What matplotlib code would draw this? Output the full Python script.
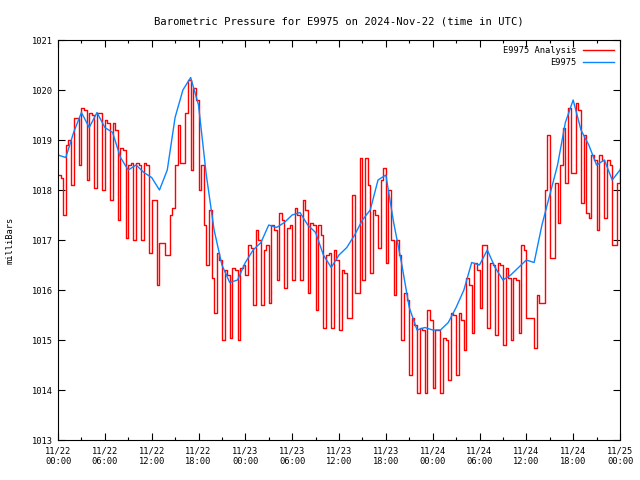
import numpy as np
import matplotlib
matplotlib.use("Agg")
import matplotlib.pyplot as plt

# x tick labels (every 6 hours)
tick_labels = ["11/22\n00:00", "11/22\n06:00", "11/22\n12:00", "11/22\n18:00",
               "11/23\n00:00", "11/23\n06:00", "11/23\n12:00", "11/23\n18:00",
               "11/24\n00:00", "11/24\n06:00", "11/24\n12:00", "11/24\n18:00",
               "11/25\n00:00"]

# E9975 Analysis, every 20 minutes from 11/22 00:00 (mb), one row per hour
analysis = [
    1018.3, 1018.25, 1017.5,   1018.9, 1019.0, 1018.1,    1019.45, 1019.45, 1018.5,
    1019.65, 1019.6, 1018.2,   1019.55, 1019.5, 1018.05,  1019.55, 1019.55, 1018.0,
    1019.4, 1019.35, 1017.8,   1019.35, 1019.2, 1017.4,   1018.85, 1018.8, 1017.05,
    1018.5, 1018.55, 1017.0,   1018.55, 1018.5, 1017.0,   1018.55, 1018.5, 1016.75,
    1017.8, 1017.8, 1016.1,    1016.95, 1016.95, 1016.7,  1016.7, 1017.5, 1017.65,
    1018.5, 1019.3, 1018.55,   1018.55, 1019.55, 1020.2,  1018.4, 1020.05, 1019.8,
    1018.0, 1018.5, 1017.3,    1016.5, 1017.6, 1016.25,   1015.55, 1016.75, 1016.6,
    1015.0, 1016.4, 1016.3,    1015.05, 1016.45, 1016.4,  1015.0, 1016.45, 1016.5,
    1016.3, 1016.9, 1016.85,   1015.7, 1017.2, 1017.0,    1015.7, 1016.8, 1016.9,
    1015.75, 1017.3, 1017.2,   1016.2, 1017.55, 1017.4,   1016.05, 1017.25, 1017.3,
    1016.2, 1017.65, 1017.5,   1016.2, 1017.8, 1017.6,    1015.95, 1017.35, 1017.3,
    1015.6, 1017.3, 1017.1,    1015.25, 1016.7, 1016.75,  1015.25, 1016.8, 1016.6,
    1015.2, 1016.4, 1016.35,   1015.45, 1015.45, 1017.9,  1015.95, 1015.95, 1018.65,
    1016.2, 1018.65, 1018.1,   1016.35, 1017.6, 1017.5,   1016.85, 1018.2, 1018.45,
    1016.55, 1018.0, 1017.0,   1015.9, 1017.0, 1016.7,    1015.0, 1015.95, 1015.8,
    1014.3, 1015.45, 1015.3,   1013.95, 1015.25, 1015.2,  1013.95, 1015.6, 1015.4,
    1014.05, 1015.2, 1015.2,   1013.95, 1015.05, 1015.0,  1014.2, 1015.55, 1015.5,
    1014.3, 1015.55, 1015.4,   1014.8, 1016.25, 1016.1,   1015.15, 1016.55, 1016.4,
    1015.65, 1016.9, 1016.9,   1015.25, 1016.55, 1016.5,  1015.1, 1016.55, 1016.5,
    1014.9, 1016.45, 1016.25,  1015.0, 1016.25, 1016.2,   1015.15, 1016.9, 1016.8,
    1015.45, 1015.45, 1015.45, 1014.85, 1015.9, 1015.75,  1015.75, 1018.0, 1019.1,
    1016.65, 1016.65, 1018.15, 1017.35, 1018.5, 1019.25,  1018.15, 1019.65, 1018.35,
    1018.35, 1019.75, 1019.6,  1017.75, 1019.1, 1017.55,  1017.45, 1018.7, 1018.6,
    1017.2, 1018.7, 1018.6,    1017.45, 1018.6, 1018.5,   1016.9, 1016.9, 1018.15,
    1018.45]

# E9975 observed, hourly (mb)
observed = [1018.7, 1018.65, 1019.15, 1019.55, 1019.25, 1019.55, 1019.25, 1019.15,
            1018.65, 1018.4, 1018.5, 1018.35, 1018.25, 1018.0, 1018.4, 1019.45,
            1020.0, 1020.25, 1019.7, 1018.3, 1017.2, 1016.5, 1016.15, 1016.2,
            1016.55, 1016.8, 1016.95, 1017.3, 1017.25, 1017.35, 1017.5, 1017.55,
            1017.3, 1017.15, 1016.7, 1016.45, 1016.7, 1016.85, 1017.1, 1017.4,
            1017.6, 1018.2, 1018.3, 1017.35, 1016.55, 1015.65, 1015.2, 1015.25,
            1015.2, 1015.2, 1015.35, 1015.65, 1016.0, 1016.55, 1016.5, 1016.8,
            1016.45, 1016.2, 1016.3, 1016.45, 1016.6, 1016.55, 1017.3, 1017.9,
            1018.5, 1019.35, 1019.8, 1019.2, 1018.9, 1018.5, 1018.6, 1018.2,
            1018.4]

t_an = np.arange(len(analysis)) / 3.0
t_ob = np.arange(len(observed)) * 1.0

plt.rcParams['font.family'] = ['DejaVu Sans Mono']
plt.rcParams['font.size'] = 6.3

fig = plt.figure(figsize=(6.4, 4.8), dpi=100)
ax = fig.add_axes([58/640, 40/480, 562/640, 400/480])

ax.step(t_an, analysis, where='post', color='#ff0000', lw=1.0, label='E9975 Analysis')
ax.plot(t_ob, observed, color='#0a84ff', lw=1.0, label='E9975')

ax.set_xlim(0, 72)
ax.set_ylim(1013, 1021)
ax.set_xticks(np.arange(0, 73, 6))
ax.set_xticklabels(tick_labels)
ax.set_xticks(np.arange(0, 73, 3), minor=True)
ax.set_yticks(np.arange(1013, 1022, 1))
ax.tick_params(which='both', direction='in', top=True, right=True, width=0.8)
ax.tick_params(which='major', length=5, pad=4)
ax.tick_params(which='minor', length=2.5)
ax.tick_params(axis='x', pad=5)
for s in ax.spines.values():
    s.set_linewidth(0.8)

ax.set_ylabel('milliBars', labelpad=12)
ax.set_title('Barometric Pressure for E9975 on 2024-Nov-22 (time in UTC)', pad=11)
ax.legend(loc='upper right', frameon=False, markerfirst=False, handlelength=3.5,
          borderaxespad=0.3, labelspacing=0.3, handletextpad=0.8)

fig.savefig('out.png', dpi=100)
